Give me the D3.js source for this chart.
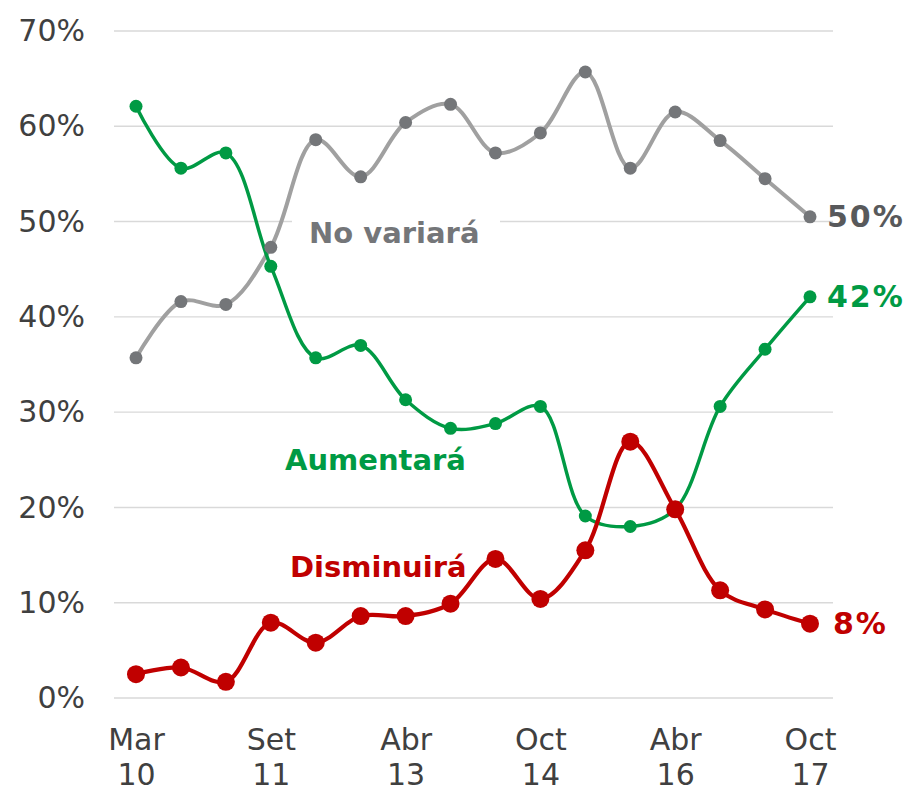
<!DOCTYPE html>
<html>
<head>
<meta charset="utf-8">
<script src="https://cdn.jsdelivr.net/npm/d3@7"></script>
<style>
  html, body { margin: 0; padding: 0; background: #fff; }
  svg { display: block; }
</style>
</head>
<body>
<svg id="chart" width="919" height="792"></svg>
<script>
const categories = ["Mar 10","Set 10","Mar 11","Set 11","Mar 12","Set 12","Abr 13","Oct 13","Abr 14","Oct 14","Abr 15","Oct 15","Abr 16","Oct 16","Abr 17","Oct 17"];
const noVariara  = [35.7, 41.6, 41.3, 47.3, 58.6, 54.7, 60.4, 62.3, 57.2, 59.3, 65.7, 55.6, 61.5, 58.5, 54.5, 50.5];
const aumentara  = [62.1, 55.6, 57.2, 45.3, 35.7, 37.0, 31.3, 28.3, 28.8, 30.6, 19.1, 18.0, 19.8, 30.6, 36.6, 42.1];
const disminuira = [2.5, 3.2, 1.7, 7.9, 5.8, 8.6, 8.6, 9.9, 14.6, 10.4, 15.5, 26.9, 19.8, 11.3, 9.3, 7.8];
const xTickCats = ["Mar 10","Set 11","Abr 13","Oct 14","Abr 16","Oct 17"];
const yTicks = [0, 10, 20, 30, 40, 50, 60, 70];
const endLabels = ["50%", "42%", "8%"];
const seriesNames = ["No variará", "Aumentará", "Disminuirá"];

const svg = d3.select("#chart");
const FONT = "'DejaVu Sans', Verdana, sans-serif";

const x = d3.scalePoint().domain(categories).range([136, 810]);
const y = d3.scaleLinear().domain([0, 70]).range([698, 31]);

// gridlines
svg.append("g").selectAll("line").data(yTicks).join("line")
  .attr("x1", 114).attr("x2", 833)
  .attr("y1", d => y(d)).attr("y2", d => y(d))
  .attr("stroke", "#d9d9d9").attr("stroke-width", 1.4);

// y axis
const yAxis = svg.append("g").attr("transform", "translate(85,0)")
  .call(d3.axisLeft(y).tickValues(yTicks).tickSize(0).tickPadding(0).tickFormat(d => d + "%"));
yAxis.select(".domain").remove();
yAxis.selectAll("text").attr("font-family", FONT).attr("font-size", 30).attr("fill", "#404040");

// x axis
const xAxis = svg.append("g").attr("transform", "translate(0,698)")
  .call(d3.axisBottom(x).tickValues(xTickCats).tickSize(0).tickFormat(""));
xAxis.select(".domain").remove();
xAxis.selectAll(".tick").each(function(d) {
  const parts = d.split(" ");
  const t = d3.select(this).append("text")
    .attr("font-family", FONT).attr("font-size", 30).attr("fill", "#404040")
    .attr("text-anchor", "middle");
  t.append("tspan").attr("x", 0).attr("y", 52).text(parts[0]);
  t.append("tspan").attr("x", 0).attr("y", 87).text(parts[1]);
});

// white box behind "No variará" label
svg.append("rect").attr("x", 292).attr("y", 205).attr("width", 208).attr("height", 50).attr("fill", "#fff");

const series = [
  { name: seriesNames[0], data: noVariara, line: "#a0a0a0", dot: "#747679", lw: 4, r: 6.5, end: endLabels[0], endColor: "#58595b", lab: [309, 243], labColor: "#747679" },
  { name: seriesNames[1], data: aumentara, line: "#009a44", dot: "#009a44", lw: 3.5, r: 6.5, end: endLabels[1], endColor: "#009a44", lab: [285, 470], labColor: "#009a44" },
  { name: seriesNames[2], data: disminuira, line: "#c00000", dot: "#c00000", lw: 4.2, r: 9, end: endLabels[2], endColor: "#c00000", lab: [290, 577], labColor: "#c00000" }
];

const line = d3.line().x((d, i) => x(categories[i])).y(d => y(d)).curve(d3.curveCatmullRom.alpha(0.5));

series.forEach(s => {
  svg.append("path").datum(s.data).attr("d", line)
    .attr("fill", "none").attr("stroke", s.line).attr("stroke-width", s.lw)
    .attr("stroke-linejoin", "round").attr("stroke-linecap", "round");
});
series.forEach(s => {
  svg.append("g").selectAll("circle").data(s.data).join("circle")
    .attr("cx", (d, i) => x(categories[i])).attr("cy", d => y(d))
    .attr("r", s.r).attr("fill", s.dot);
});
series.forEach(s => {
  const last = s.data[s.data.length - 1];
  svg.append("text").attr("x", x(categories[categories.length - 1]) + (s.r > 7 ? 23 : 17))
    .attr("y", y(last)).attr("dy", "0.35em")
    .attr("font-family", FONT).attr("font-size", 30).attr("font-weight", "bold")
    .attr("letter-spacing", 2)
    .attr("fill", s.endColor).text(s.end);
  svg.append("text").attr("x", s.lab[0]).attr("y", s.lab[1])
    .attr("font-family", FONT).attr("font-size", 29).attr("font-weight", "bold")
    .attr("fill", s.labColor).text(s.name);
});
</script>
</body>
</html>
